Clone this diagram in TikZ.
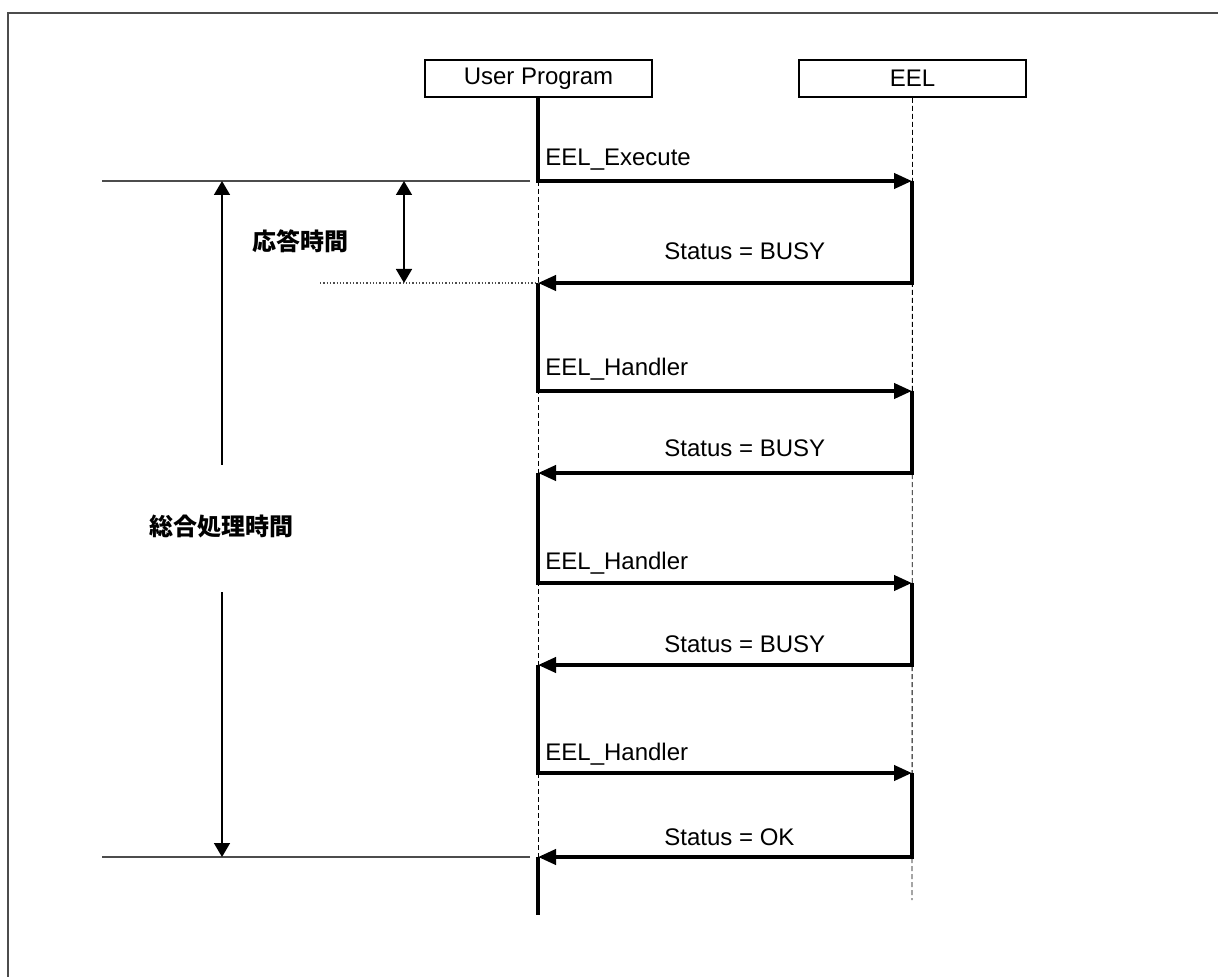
\documentclass[tikz,border=0pt]{standalone}
\usepackage{fontspec}
\setmainfont{Liberation Sans}
\newfontfamily\jpfont{Noto Sans CJK JP}
\usetikzlibrary{positioning,calc,arrows.meta}

\begin{document}
\begin{tikzpicture}[x=0.5pt,y=-0.5pt, font=\fontsize{12}{14}\selectfont, line join=miter]
	\useasboundingbox (0,0) rectangle (1218,977);
	
	% ===== styles =====
	\tikzset{
		lifebox/.style={draw, line width=1pt, minimum width=113.5pt, minimum height=18.5pt, inner sep=0pt},
		life/.style={line width=0.45pt, dash pattern=on 2.5pt off 1.5pt},
		msg/.style={line width=2pt, -{Triangle[length=9pt,width=7.5pt]}},
		act/.style={line width=2pt},
		guide/.style={black!70, line width=0.65pt},
		dim/.style={line width=0.8pt, -{Triangle[length=7pt,width=8pt]}},
		dimboth/.style={line width=0.8pt, {Triangle[length=7pt,width=8pt]}-{Triangle[length=7pt,width=8pt]}},
		lbl/.style={anchor=base west, inner sep=0pt},
		jp/.style={font=\fontsize{12}{14}\selectfont\jpfont\bfseries, inner sep=0pt}
	}
	
	% ===== frame =====
	\draw[black!70, line width=1pt] (8,977) -- (8,13) -- (1218,13);
	
	% ===== lifelines =====
	\node[lifebox] (up) at (538.5,78.5) {User Program};
	\node[lifebox] (eel) at (912.5,78.5) {EEL};
	
	\foreach \n/\y in {1/181,2/283,3/391,4/473,5/583,6/665,7/773,8/857,9/915}{
		\coordinate (u\n) at (538,\y);
		\coordinate (e\n) at (912,\y);
	}
	\coordinate (eEnd) at (912,900);
	
	\draw[life] (u1) -- (u9);
	\draw[life] (eel.south) -- (eEnd);
	
	% ===== messages =====
	\draw[msg] (u1 |- up.south) -- (u1) -- (e1);
	\foreach \a/\b in {1/2,3/4,5/6,7/8}{
		\draw[msg] (e\a) -- (e\b) -- (u\b);
	}
	\foreach \a/\b in {2/3,4/5,6/7}{
		\draw[msg] (u\a) -- (u\b) -- (e\b);
	}
	\draw[act] (u8) -- (u9);
	
	% ===== labels =====
	\node[lbl] (call1) at ($(u1)+(7,-15)$) {EEL\_Execute};
	\foreach \n/\d in {3/15,5/14,7/13}{
		\node[lbl] (call\n) at ($(u\n)+(7,-\d)$) {EEL\_Handler};
	}
	\foreach \n/\d in {2/23,4/16,6/13}{
		\node[lbl] (ret\n) at ($(u\n)+(126,-\d)$) {Status = BUSY};
	}
	\node[lbl] (ret8) at ($(u8)+(126,-12)$) {Status = OK};
	
	% ===== time marks =====
	\coordinate (tTop) at (102,181);
	\coordinate (tBot) at (102,857);
	\coordinate (rEnd) at (320,283);
	\draw[guide] (tTop) -- ($(u1)+(-8,0)$);
	\draw[guide] (tBot) -- ($(u8)+(-8,0)$);
	\draw[guide, densely dotted] (rEnd) -- (u2);
	
	\node[jp] (total) at (221,526) {総合処理時間};
	\draw[dim] (222,465) -- (222,181);
	\draw[dim] (222,592) -- (222,857);
	
	\node[jp] (resp) at (300,241) {応答時間};
	\draw[dimboth] (404,181) -- (404,283);
\end{tikzpicture}
\end{document}
